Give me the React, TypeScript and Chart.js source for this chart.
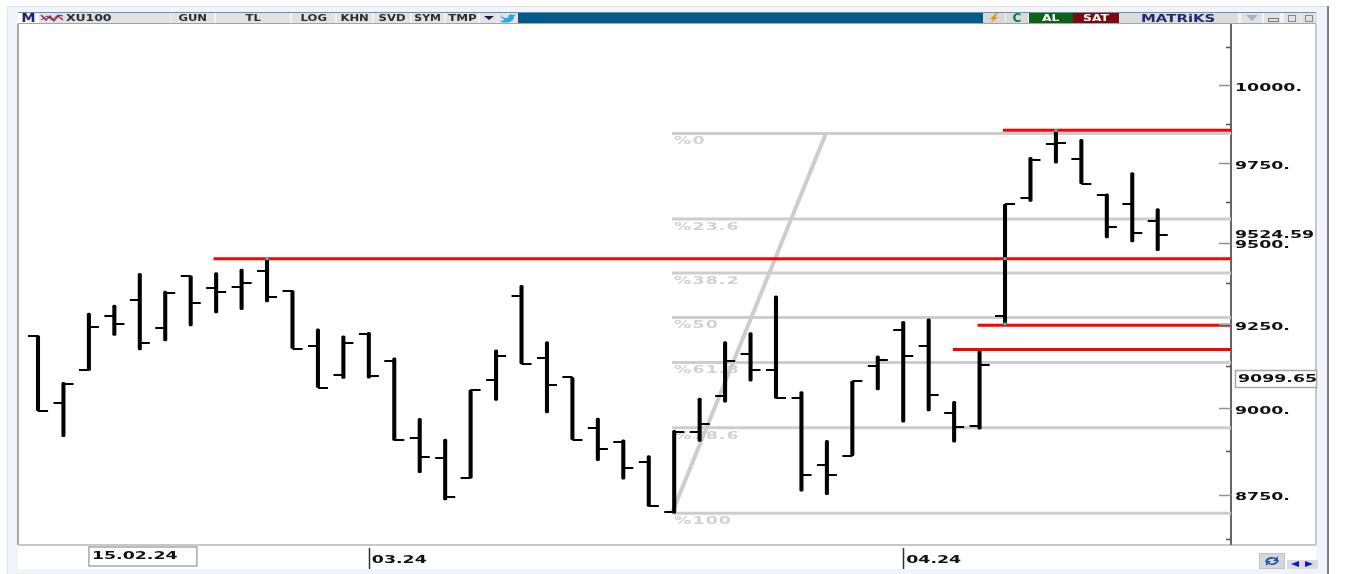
import React, { useEffect, useRef } from "react";
import { Chart, registerables } from "chart.js";

Chart.register(...registerables);

// OHLC daily bars (index 0 = 13.02.24)
const openV = [9216,9014,9112,9275,9322,9239,9397,9361,9364,9412,9352,9186,9099,9220,9140,8914,8856,8797,9083,9337,9148,9091,8941,8902,8843,8701,8931,9035,9161,9113,9029,8834,8862,9125,9233,9185,8985,8948,9275,9638,9810,9762,9648,9619,9568];
const highV = [9216,9076,9284,9308,9405,9351,9397,9407,9418,9451,9352,9236,9215,9226,9149,8970,8910,9054,9173,9368,9198,9091,8971,8908,8862,8935,9030,9198,9225,9336,9049,8906,9080,9155,9259,9266,9020,9171,9620,9768,9853,9825,9652,9719,9606];
const lowV = [8992,8917,9112,9216,9173,9200,9245,9284,9294,9318,9177,9061,9088,9089,8906,8813,8735,8797,9023,9131,8986,8908,8847,8794,8716,8697,8903,9018,9080,9029,8760,8750,8862,9054,8959,8992,8901,8939,9251,9628,9749,9684,9514,9502,9475];
const closeV = [8992,9071,9241,9251,9195,9346,9313,9349,9376,9333,9177,9061,9195,9096,8906,8859,8744,9054,9155,9131,9067,8908,8882,8826,8716,8931,8954,9141,9112,9029,8805,8805,9080,9143,9156,9039,8946,9127,9620,9759,9814,9684,9549,9531,9524.59];

const fibLabels = ["%0", "%23.6", "%38.2", "%50", "%61.8", "%78.6", "%100"];
const fibValues = [9844, 9573, 9406, 9270.5, 9135, 8943, 8697];
const fibStartIndex = 24.91;
const fibDiagonalEndIndex = 30.96;

const redValues = [9450, 9854, 9247, 9174];
const redStarts = [6.9, 37.92, 36.92, 35.95];

const cyanIndex = [9, 38, 38, 40];
const cyanValues = [9450, 9450, 9251, 9853];

const yMajorTicks = [10000, 9750, 9500, 9250, 9000, 8750];
const yMinorTicks = [10125, 9875, 9625, 9375, 9125, 8875, 8625];
const monthTickIndex = [13, 34];
const monthTickLabels = ["03.24", "04.24"];
const cursorIndex = 2;
const cursorDate = "15.02.24";
const cursorValueText = "9099.65";
const lastValue = 9524.59;

const X_MIN = -0.786;
const X_MAX = 46.88;
const Y_MIN = 8610;
const Y_MAX = 10202;

const FONT = '"DejaVu Sans", sans-serif';
const TEXT_STRETCH = 1.58;
const tickFont = { family: '"DejaVu Sans"', size: 11, weight: "bold" as const };

function tickImage(side: "left" | "right") {
  const c = document.createElement("canvas");
  c.width = 22;
  c.height = 2;
  const g = c.getContext("2d")!;
  g.fillStyle = "#000";
  if (side === "left") g.fillRect(1, 0, 10, 2);
  else g.fillRect(11, 0, 10, 2);
  return c;
}

// the terminal's labels are set in a very wide face: stretch the canvas text horizontally
function stretchCanvasText(ctx: any) {
  const original = ctx.fillText.bind(ctx);
  ctx.fillText = (t: string, x: number, y: number) => {
    ctx.save();
    ctx.scale(TEXT_STRETCH, 1);
    original(t, x / TEXT_STRETCH, y);
    ctx.restore();
  };
}

const overlayPlugin = {
  id: "matriksOverlay",
  beforeDatasetsDraw(chart: any) {
    const { ctx, scales } = chart;
    ctx.save();
    ctx.font = 'bold 11px "DejaVu Sans"';
    ctx.letterSpacing = "0.7px";
    ctx.fillStyle = "#d2d2d2";
    ctx.textAlign = "left";
    ctx.textBaseline = "middle";
    fibLabels.forEach((t, i) => {
      ctx.fillText(t, scales.x.getPixelForValue(fibStartIndex) + 2, scales.y.getPixelForValue(fibValues[i]) + 8);
    });
    ctx.restore();
  },
  afterDraw(chart: any) {
    const { ctx, scales, chartArea } = chart;
    const { x, y } = scales;
    ctx.save();
    // value axis ticks sit inside the plot, against the axis line
    ctx.lineWidth = 1.5;
    yMajorTicks.forEach((v) => {
      const p = Math.round(y.getPixelForValue(v)) + 0.5;
      ctx.strokeStyle = v === 9250 ? "#30c8d0" : "#909090";
      ctx.beginPath();
      ctx.moveTo(chartArea.right - 12, p);
      ctx.lineTo(chartArea.right, p);
      ctx.stroke();
    });
    ctx.strokeStyle = "#555";
    yMinorTicks.forEach((v) => {
      const p = Math.round(y.getPixelForValue(v)) + 0.5;
      ctx.beginPath();
      ctx.moveTo(chartArea.right - 5, p);
      ctx.lineTo(chartArea.right, p);
      ctx.stroke();
    });
    // month separators below the plot
    ctx.strokeStyle = "#333";
    ctx.lineWidth = 1.5;
    monthTickIndex.forEach((i) => {
      const p = Math.round(x.getPixelForValue(i)) + 0.5;
      ctx.beginPath();
      ctx.moveTo(p, 548);
      ctx.lineTo(p, 569);
      ctx.stroke();
    });
    ctx.font = 'bold 11px "DejaVu Sans"';
    ctx.textAlign = "left";
    ctx.textBaseline = "middle";
    // cursor date box
    const bx = x.getPixelForValue(cursorIndex);
    ctx.fillStyle = "#fff";
    ctx.fillRect(bx, 547, 108, 19);
    ctx.strokeStyle = "#a8a8a8";
    ctx.strokeRect(bx, 547, 108, 19);
    ctx.fillStyle = "#111";
    ctx.fillText(cursorDate, bx + 3, 556);
    // cursor value box
    ctx.fillStyle = "#fff";
    ctx.fillRect(1235.5, 370.5, 81, 17);
    ctx.strokeStyle = "#a8a8a8";
    ctx.strokeRect(1235.5, 370.5, 81, 17);
    ctx.fillStyle = "#111";
    ctx.fillText(cursorValueText, 1238, 379);
    // last price
    ctx.fillText(lastValue.toFixed(2), 1235, y.getPixelForValue(lastValue) + 1);
    ctx.restore();
  },
};

type Cell = { x: number; w: number; t?: string; bg?: string; c?: string; sx?: number; left?: boolean; fs?: number };
const toolbarCells: Cell[] = [
  { x: 18, w: 21, t: "M", bg: "#ffffff", c: "#1c2468", fs: 13, sx: 1.1 },
  { x: 65, w: 105, t: "XU100", left: true, sx: 1.3 },
  { x: 171, w: 43, t: "GUN" },
  { x: 216, w: 74, t: "TL" },
  { x: 292, w: 43, t: "LOG" },
  { x: 337, w: 35, t: "KHN" },
  { x: 374, w: 36, t: "SVD" },
  { x: 412, w: 32, t: "SYM", sx: 1.15 },
  { x: 446, w: 32, t: "TMP", sx: 1.25 },
  { x: 1029, w: 44, t: "AL", bg: "#0b6414", c: "#ffffff", sx: 1.3 },
  { x: 1073, w: 46, t: "SAT", bg: "#7c0a0e", c: "#ffffff", sx: 1.3 },
  { x: 1119, w: 119, t: "MATRiKS", bg: "#dcdcdc", c: "#26286e", fs: 10.5, sx: 1.42 },
];

function ToolbarCell({ x, w, t, bg, c, sx, left, fs }: Cell) {
  return (
    <div
      style={{
        position: "absolute",
        left: x,
        top: 13,
        width: w,
        height: 10,
        background: bg ?? "#e2e2e2",
        color: c ?? "#2c2c2c",
        font: `bold ${fs ?? 9.5}px/10px ${FONT}`,
        textAlign: left ? "left" : "center",
        whiteSpace: "nowrap",
        overflow: "hidden",
      }}
    >
      <span
        style={{
          display: "inline-block",
          transform: `scaleX(${sx ?? 1.22})`,
          transformOrigin: left ? "left center" : "center center",
          marginLeft: left ? 1 : 0,
        }}
      >
        {t}
      </span>
    </div>
  );
}

function Box({ s }: { s: React.CSSProperties }) {
  return <div style={{ position: "absolute", ...s }} />;
}

export default function App() {
  const ref = useRef<HTMLCanvasElement>(null);

  useEffect(() => {
    document.body.style.margin = "0";
    const canvas = ref.current!;
    stretchCanvasText(canvas.getContext("2d"));
    const indices = openV.map((_, i) => i);
    const line = (data: { x: number; y: number }[], color: string, order: number, width = 3) => ({
      type: "line" as const,
      data,
      borderColor: color,
      borderWidth: width,
      pointRadius: 0,
      tension: 0,
      order,
      borderCapStyle: "butt" as const,
    });
    const chart = new Chart(canvas, {
      type: "bar",
      data: {
        datasets: [
          ...fibValues.map((v) => line([{ x: fibStartIndex, y: v }, { x: X_MAX, y: v }], "#cdcdcd", 6)),
          line(
            [
              { x: fibStartIndex, y: fibValues[6] },
              { x: fibDiagonalEndIndex, y: fibValues[0] },
            ],
            "#cdcdcd",
            6,
            4
          ),
          {
            type: "bar" as const,
            data: indices.map((i) => ({ x: i, y: [lowV[i], highV[i]] })),
            backgroundColor: "#000",
            barThickness: 3.4,
            borderRadius: 1.5,
            borderSkipped: false,
            order: 5,
          },
          {
            type: "scatter" as const,
            data: indices.map((i) => ({ x: i, y: openV[i] })),
            pointStyle: tickImage("left"),
            order: 4,
          },
          {
            type: "scatter" as const,
            data: indices.map((i) => ({ x: i, y: closeV[i] })),
            pointStyle: tickImage("right"),
            order: 4,
          },
          ...redValues.map((v, i) => line([{ x: redStarts[i], y: v }, { x: X_MAX, y: v }], "#ff0000", 2)),
          {
            type: "scatter" as const,
            data: cyanIndex.map((x, i) => ({ x, y: cyanValues[i] })),
            pointStyle: "rect",
            pointRadius: 2,
            backgroundColor: "#12d6d6",
            borderWidth: 0,
            order: 1,
          },
        ] as any,
      },
      options: {
        animation: false,
        responsive: false,
        layout: { padding: { left: 18, top: 24, right: 0, bottom: 0 } },
        plugins: { legend: { display: false }, tooltip: { enabled: false } },
        events: [],
        scales: {
          x: {
            type: "linear",
            position: "bottom",
            min: X_MIN,
            max: X_MAX,
            offset: false,
            bounds: "data",
            grid: { display: false },
            border: { display: false },
            afterBuildTicks: (s: any) => {
              s.ticks = monthTickIndex.map((value) => ({ value }));
            },
            afterFit: (s: any) => {
              s.height = 30;
              s.paddingLeft = 0;
              s.paddingRight = 0;
            },
            ticks: {
              autoSkip: false,
              maxRotation: 0,
              minRotation: 0,
              align: "start",
              labelOffset: 3,
              padding: 2,
              color: "#111",
              font: tickFont,
              callback: (v: any) => monthTickLabels[monthTickIndex.indexOf(Number(v))] ?? "",
            },
          } as any,
          y: {
            type: "logarithmic",
            position: "right",
            min: Y_MIN,
            max: Y_MAX,
            bounds: "data",
            grid: { display: false, drawTicks: false },
            border: { display: true, color: "#666", width: 2 },
            afterBuildTicks: (s: any) => {
              s.ticks = [...yMajorTicks, ...yMinorTicks].sort((a, b) => b - a).map((value) => ({ value }));
            },
            afterFit: (s: any) => {
              s.width = 115;
              s.paddingTop = 0;
              s.paddingBottom = 0;
            },
            ticks: {
              autoSkip: false,
              padding: 4,
              labelOffset: 3,
              color: "#111",
              font: tickFont,
              callback: (v: any) => (yMajorTicks.includes(Number(v)) ? `${v}.` : ""),
            },
          } as any,
        },
      },
      plugins: [overlayPlugin],
    } as any);
    return () => chart.destroy();
  }, []);

  return (
    <div style={{ position: "absolute", left: 0, top: 0, width: 1346, height: 574, overflow: "hidden", background: "#fff" }}>
      {/* window frame */}
      <Box s={{ left: 7, top: 6, width: 1320, height: 568, background: "#f1f5fb", borderTop: "1px solid #e2e2e2", borderLeft: "1px solid #e2e2e2", boxSizing: "border-box" }} />
      <Box s={{ left: 1327, top: 6, width: 2, height: 568, background: "#7d7d7d" }} />
      <Box s={{ left: 18, top: 24, width: 1298, height: 545, background: "#fff" }} />
      <Box s={{ left: 17, top: 24, width: 2, height: 521, background: "#a9a9a9" }} />
      <Box s={{ left: 18, top: 544, width: 1298, height: 1.5, background: "#c8c8c8" }} />
      <Box s={{ left: 1315, top: 24, width: 1.5, height: 521, background: "#c8c8c8" }} />

      <canvas ref={ref} width={1346} height={574} style={{ position: "absolute", left: 0, top: 0, width: 1346, height: 574 }} />

      {/* toolbar */}
      <Box s={{ left: 18, top: 12, width: 1298, height: 1, background: "#5f93b8" }} />
      <Box s={{ left: 18, top: 23, width: 1298, height: 1, background: "#a4a4a4" }} />
      <Box s={{ left: 39, top: 13, width: 26, height: 10, background: "#dfe3ea" }} />
      <svg style={{ position: "absolute", left: 40, top: 13 }} width="24" height="10">
        <path d="M1 2 L6 7 L10 3 L14 8 L18 3 L23 7" stroke="#c4161c" fill="none" strokeWidth="1.4" />
        <path d="M1 7 L7 3 L12 7 L18 2 L23 3" stroke="#27408b" fill="none" strokeWidth="1" />
      </svg>
      {toolbarCells.map((c) => (
        <ToolbarCell key={c.x} {...c} />
      ))}
      <Box s={{ left: 480, top: 13, width: 17, height: 10, background: "#e2e2e2" }} />
      <Box s={{ left: 484, top: 16, width: 0, height: 0, borderLeft: "5px solid transparent", borderRight: "5px solid transparent", borderTop: "4px solid #1b1b4a" }} />
      <Box s={{ left: 498, top: 13, width: 20, height: 10, background: "#e2e2e2" }} />
      <svg style={{ position: "absolute", left: 500, top: 13 }} width="16" height="10">
        <path d="M0 2 C3 5 6 5 8 5 C8 2 11 0 13 2 L16 1 L14 3.5 C14 8 9 10 5 9.5 C3 9.5 1.5 9 0 8 C2 8 3.5 7.5 4.5 6.5 C2.5 6 1 4 0 2 Z" fill="#2aa6e0" />
      </svg>
      <Box s={{ left: 518, top: 13, width: 465, height: 10, background: "#005a8c" }} />
      <Box s={{ left: 983, top: 13, width: 22, height: 10, background: "#d9d9d9" }} />
      <svg style={{ position: "absolute", left: 988, top: 13 }} width="12" height="10">
        <path d="M8 0 L2 6 L5 6 L3 10 L10 4 L7 4 L10 0 Z" fill="#e8961a" />
      </svg>
      <Box s={{ left: 1006, top: 13, width: 22, height: 10, background: "#d9d9d9" }} />
      <div style={{ position: "absolute", left: 1006, top: 12, width: 22, textAlign: "center", font: `bold 12px/12px ${FONT}`, color: "#0e7a4a" }}>C</div>
      {[1241, 1264, 1284, 1301].map((x, i) => (
        <Box key={x} s={{ left: x, top: 13, width: i === 0 ? 21 : 16, height: 10, background: "#e2e2e2" }} />
      ))}
      <Box s={{ left: 1246, top: 15, width: 0, height: 0, borderLeft: "6px solid transparent", borderRight: "6px solid transparent", borderTop: "6px solid #aab0c0" }} />
      <Box s={{ left: 1268, top: 18, width: 9, height: 2, border: "1px solid #777" }} />
      <Box s={{ left: 1288, top: 15, width: 6, height: 5, border: "1px solid #888" }} />
      <Box s={{ left: 1305, top: 15, width: 6, height: 5, border: "1px solid #888" }} />

      {/* bottom-right buttons */}
      <Box s={{ left: 1259, top: 553, width: 26, height: 16, background: "#d4d8de", border: "1px solid #c4c4c4", boxSizing: "border-box" }} />
      <svg style={{ position: "absolute", left: 1263, top: 555 }} width="18" height="12">
        <path d="M2 7 C3 2 9 1 13 3 L15 1 L15 6 L10 6 L12 4 C9 3 5 4 4 7 Z" fill="#2a5aa0" />
        <path d="M16 5 C15 10 9 11 5 9 L3 11 L3 6 L8 6 L6 8 C9 9 13 8 14 5 Z" fill="#2a5aa0" />
      </svg>
      <Box s={{ left: 1287, top: 560, width: 31, height: 9, background: "#dcdcdc" }} />
      <Box s={{ left: 1291, top: 561, width: 0, height: 0, borderTop: "3.5px solid transparent", borderBottom: "3.5px solid transparent", borderRight: "8px solid #0a1ad0" }} />
      <Box s={{ left: 1305, top: 561, width: 0, height: 0, borderTop: "3.5px solid transparent", borderBottom: "3.5px solid transparent", borderLeft: "8px solid #0a1ad0" }} />
    </div>
  );
}
